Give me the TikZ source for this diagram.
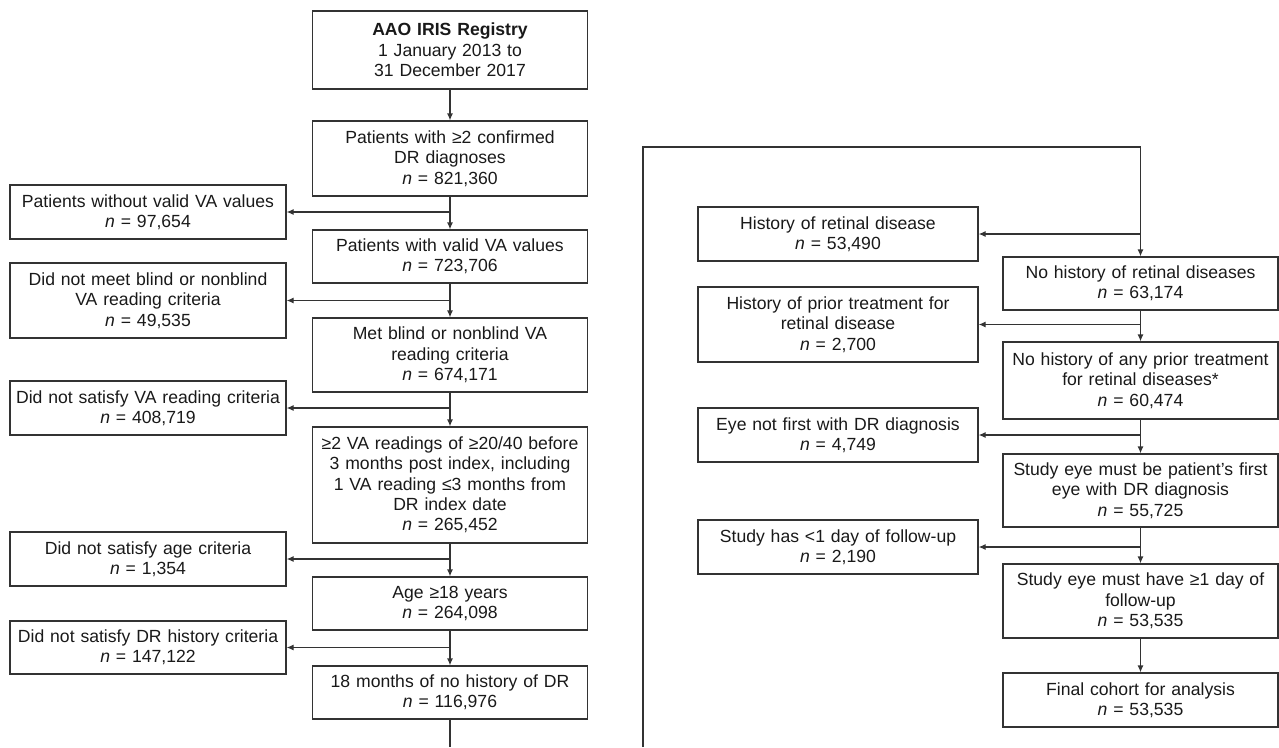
\documentclass[tikz,border=0pt]{standalone}
\usepackage{fontspec}
\setmainfont{Liberation Sans}
\usetikzlibrary{arrows.meta}

\begin{document}
\begin{tikzpicture}[x=1pt,y=-1pt,>={Latex[length=7pt,width=6pt]},
  box/.style={draw=black!80,line width=1.2pt,align=center,inner xsep=2pt,inner ysep=0pt,
    font=\fontsize{17.6}{20.3}\selectfont,text=black!90},
  main/.style={box,text width=271pt},
  lside/.style={box,text width=272pt},
  rside/.style={box,text width=276pt},
  line/.style={draw=black!80,line width=1.2pt}]
  \useasboundingbox (0,0) rectangle (1279,747);
  % left column
  \node[main,minimum height=78pt] (reg) at (450,50) {\textbf{AAO IRIS Registry}\\1 January 2013 to\\31 December 2017};
  \node[main,minimum height=75pt] (dr2) at (450,158.5) {Patients with ≥2 confirmed\\DR diagnoses\\\textit{n} = 821,360};
  \node[main,minimum height=53pt] (valid) at (450,256.5) {Patients with valid VA values\\\textit{n} = 723,706};
  \node[main,minimum height=74pt] (met) at (450,355) {Met blind or nonblind VA\\reading criteria\\\textit{n} = 674,171};
  \node[main,minimum height=116pt] (va) at (450,485) {≥2 VA readings of ≥20/40 before\\3 months post index, including\\1 VA reading ≤3 months from\\DR index date\\\textit{n} = 265,452};
  \node[main,minimum height=53pt] (age) at (450,603.5) {Age ≥18 years\\\textit{n} = 264,098};
  \node[main,minimum height=53pt] (nodr) at (450,692.5) {18 months of no history of DR\\\textit{n} = 116,976};
  \node[lside,minimum height=54pt] (novalid) at (148,212) {Patients without valid VA values\\\textit{n} = 97,654};
  \node[lside,minimum height=75pt] (notmet) at (148,300.5) {Did not meet blind or nonblind\\VA reading criteria\\\textit{n} = 49,535};
  \node[lside,minimum height=54pt] (notva) at (148,408) {Did not satisfy VA reading criteria\\\textit{n} = 408,719};
  \node[lside,minimum height=54pt] (notage) at (148,559) {Did not satisfy age criteria\\\textit{n} = 1,354};
  \node[lside,minimum height=53pt] (notdr) at (148,647.5) {Did not satisfy DR history criteria\\\textit{n} = 147,122};
  % right column
  \node[main,minimum height=53pt] (noret) at (1140.5,283.5) {No history of retinal diseases\\\textit{n} = 63,174};
  \node[main,minimum height=77pt] (notreat) at (1140.5,380.5) {No history of any prior treatment\\for retinal diseases*\\\textit{n} = 60,474};
  \node[main,minimum height=73pt] (first) at (1140.5,490.5) {Study eye must be patient’s first\\eye with DR diagnosis\\\textit{n} = 55,725};
  \node[main,minimum height=74pt] (follow) at (1140.5,601) {Study eye must have ≥1 day of\\follow-up\\\textit{n} = 53,535};
  \node[main,minimum height=54pt] (final) at (1140.5,700) {Final cohort for analysis\\\textit{n} = 53,535};
  \node[rside,minimum height=54pt] (ret) at (838,234) {History of retinal disease\\\textit{n} = 53,490};
  \node[rside,minimum height=75pt] (treat) at (838,324.5) {History of prior treatment for\\retinal disease\\\textit{n} = 2,700};
  \node[rside,minimum height=54pt] (notfirst) at (838,435) {Eye not first with DR diagnosis\\\textit{n} = 4,749};
  \node[rside,minimum height=54pt] (short) at (838,547) {Study has <1 day of follow-up\\\textit{n} = 2,190};
  % connectors
  \draw[line,->] (reg) -- (dr2);
  \draw[line,->] (dr2) -- (valid);
  \draw[line,->] (valid) -- (met);
  \draw[line,->] (met) -- (va);
  \draw[line,->] (va) -- (age);
  \draw[line,->] (age) -- (nodr);
  \draw[line,->] (dr2.south |- novalid) -- (novalid);
  \draw[line,->] (valid.south |- notmet) -- (notmet);
  \draw[line,->] (met.south |- notva) -- (notva);
  \draw[line,->] (va.south |- notage) -- (notage);
  \draw[line,->] (age.south |- notdr) -- (notdr);
  \coordinate (cutl) at (450,747);
  \coordinate (cutr) at (643,747);
  \coordinate (turn) at (643,147);
  \draw[line] (nodr) -- (cutl);
  \draw[line,->] (cutr) -- (turn) -| (noret);
  \draw[line,->] (noret.north |- ret) -- (ret);
  \draw[line,->] (noret) -- (notreat);
  \draw[line,->] (notreat) -- (first);
  \draw[line,->] (first) -- (follow);
  \draw[line,->] (follow) -- (final);
  \draw[line,->] (noret.south |- treat) -- (treat);
  \draw[line,->] (notreat.south |- notfirst) -- (notfirst);
  \draw[line,->] (first.south |- short) -- (short);
\end{tikzpicture}
\end{document}
